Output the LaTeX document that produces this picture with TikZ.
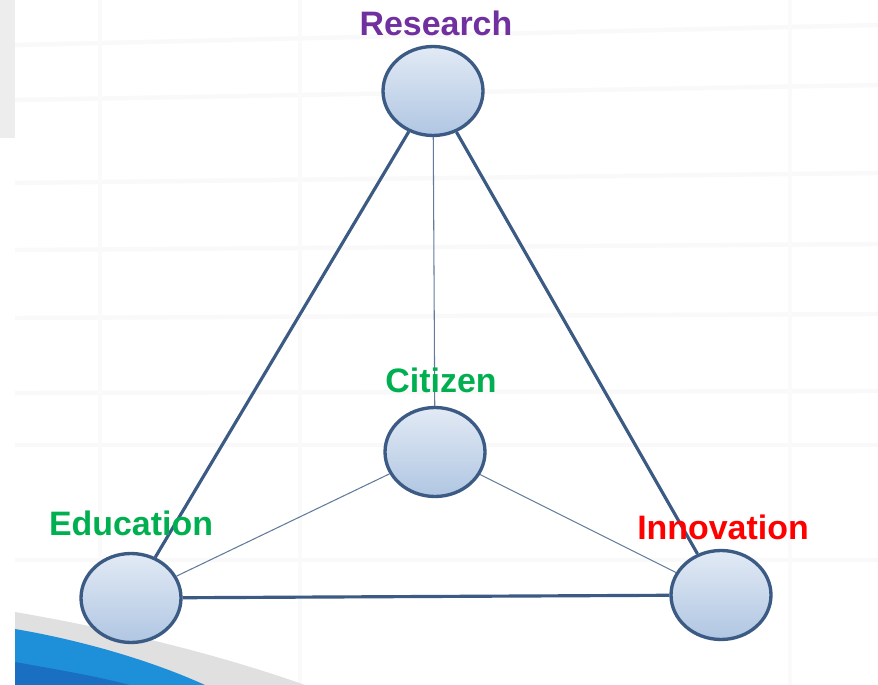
\documentclass[tikz,border=0pt]{standalone}
\usepackage{fontspec}
\setmainfont{Liberation Sans}
\usetikzlibrary{shapes, positioning}

\definecolor{rimblue}{HTML}{3B5A84}
\definecolor{topfill}{HTML}{E2EAF5}
\definecolor{botfill}{HTML}{B0C6E2}
\definecolor{respurple}{HTML}{7030A0}
\definecolor{citgreen}{HTML}{00B050}
\definecolor{innored}{HTML}{FF0000}
\definecolor{swooshblue}{HTML}{1E90DA}
\definecolor{deepblue}{HTML}{1A6FC2}

\tikzset{
  pole/.style={ellipse, draw=rimblue, line width=1.9pt, top color=topfill, bottom color=botfill,
    minimum width=2cm, minimum height=1.78cm, inner sep=0pt},
  tag/.style={font=\fontsize{19.3}{22}\selectfont\bfseries, anchor=base, inner sep=0pt},
  side/.style={rimblue, line width=1.8pt},
  spoke/.style={rimblue!80, line width=0.6pt},
}

\begin{document}
\begin{tikzpicture}[x=0.02cm, y=-0.02cm]
                  \useasboundingbox (0,0) rectangle (878,685);
                  % Background
                  \fill[white] (0,0) rectangle (878,685);
                  \fill[black!7] (0,0) rectangle (15,138);
                  \foreach \y/\s in {45/20, 100/15, 183/10, 250/6, 318/4, 393/2, 445/0, 560/0}
                  \draw[black!2.5, line width=2.5pt] (15,\y) -- (878,\y-\s);
                  \foreach \x in {100, 300, 790}
                  \draw[black!2, line width=2pt] (\x,0) -- (\x,685);
                  \fill[black!12] (15,612) .. controls (120,630) and (220,655) .. (305,685) -- (15,685) -- cycle;
                  \fill[swooshblue] (15,629) .. controls (80,640) and (150,660) .. (205,685) -- (15,685) -- cycle;
                  \fill[deepblue] (15,662) .. controls (60,670) and (100,677) .. (130,685) -- (15,685) -- cycle;

                  % Nodes
                  \node[pole] (research) at (433,91) {};
                  \node[pole] (citizen) at (435,452) {};
                  \node[pole] (education) at (131,598) {};
                  \node[pole] (innovation) at (721,595) {};

                  % Edges
                  \foreach \a/\b in {research/education, research/innovation, education/innovation}
                  \draw[side] (\a) -- (\b);
                  \foreach \p in {research, education, innovation}
                  \draw[spoke] (citizen) -- (\p);

                  % Labels
                  \node[tag, text=respurple] (researchtag) at (436,36) {Research};
                  \node[tag, text=citgreen] (citizentag) at (441,393) {Citizen};
                  \node[tag, text=citgreen] (educationtag) at (131,535) {Education};
                  \node[tag, text=innored] (innovationtag) at (723,539) {Innovation};
              \end{tikzpicture}
\end{document}
